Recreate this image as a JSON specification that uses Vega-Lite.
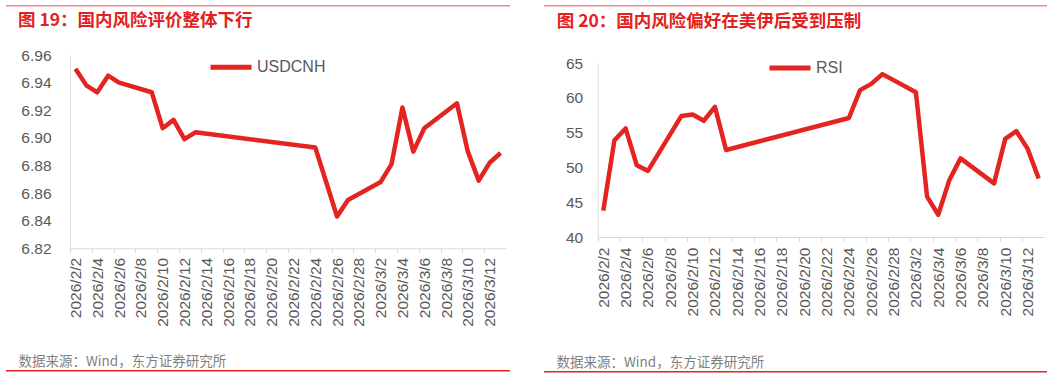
{
  "$schema": "https://vega.github.io/schema/vega-lite/v6.json",
  "padding": {"left": 6, "top": 5, "right": 0, "bottom": 0},
  "background": "white",
  "config": {"view": {"stroke": null}},
  "datasets": {
    "usdcnh": [
      {"date": "2026-02-02", "value": 6.950, "series": "USDCNH"},
      {"date": "2026-02-03", "value": 6.938, "series": "USDCNH"},
      {"date": "2026-02-04", "value": 6.933, "series": "USDCNH"},
      {"date": "2026-02-05", "value": 6.945, "series": "USDCNH"},
      {"date": "2026-02-06", "value": 6.940, "series": "USDCNH"},
      {"date": "2026-02-09", "value": 6.933, "series": "USDCNH"},
      {"date": "2026-02-10", "value": 6.907, "series": "USDCNH"},
      {"date": "2026-02-11", "value": 6.913, "series": "USDCNH"},
      {"date": "2026-02-12", "value": 6.899, "series": "USDCNH"},
      {"date": "2026-02-13", "value": 6.904, "series": "USDCNH"},
      {"date": "2026-02-24", "value": 6.893, "series": "USDCNH"},
      {"date": "2026-02-26", "value": 6.843, "series": "USDCNH"},
      {"date": "2026-02-27", "value": 6.855, "series": "USDCNH"},
      {"date": "2026-03-02", "value": 6.868, "series": "USDCNH"},
      {"date": "2026-03-03", "value": 6.881, "series": "USDCNH"},
      {"date": "2026-03-04", "value": 6.922, "series": "USDCNH"},
      {"date": "2026-03-05", "value": 6.890, "series": "USDCNH"},
      {"date": "2026-03-06", "value": 6.907, "series": "USDCNH"},
      {"date": "2026-03-09", "value": 6.925, "series": "USDCNH"},
      {"date": "2026-03-10", "value": 6.890, "series": "USDCNH"},
      {"date": "2026-03-11", "value": 6.869, "series": "USDCNH"},
      {"date": "2026-03-12", "value": 6.882, "series": "USDCNH"},
      {"date": "2026-03-13", "value": 6.889, "series": "USDCNH"}
    ],
    "rsi": [
      {"date": "2026-02-02", "value": 43.8, "series": "RSI"},
      {"date": "2026-02-03", "value": 53.9, "series": "RSI"},
      {"date": "2026-02-04", "value": 55.6, "series": "RSI"},
      {"date": "2026-02-05", "value": 50.3, "series": "RSI"},
      {"date": "2026-02-06", "value": 49.5, "series": "RSI"},
      {"date": "2026-02-09", "value": 57.4, "series": "RSI"},
      {"date": "2026-02-10", "value": 57.6, "series": "RSI"},
      {"date": "2026-02-11", "value": 56.7, "series": "RSI"},
      {"date": "2026-02-12", "value": 58.7, "series": "RSI"},
      {"date": "2026-02-13", "value": 52.5, "series": "RSI"},
      {"date": "2026-02-24", "value": 57.1, "series": "RSI"},
      {"date": "2026-02-25", "value": 61.1, "series": "RSI"},
      {"date": "2026-02-26", "value": 62.0, "series": "RSI"},
      {"date": "2026-02-27", "value": 63.4, "series": "RSI"},
      {"date": "2026-03-02", "value": 60.8, "series": "RSI"},
      {"date": "2026-03-03", "value": 45.8, "series": "RSI"},
      {"date": "2026-03-04", "value": 43.2, "series": "RSI"},
      {"date": "2026-03-05", "value": 48.2, "series": "RSI"},
      {"date": "2026-03-06", "value": 51.3, "series": "RSI"},
      {"date": "2026-03-09", "value": 47.7, "series": "RSI"},
      {"date": "2026-03-10", "value": 54.1, "series": "RSI"},
      {"date": "2026-03-11", "value": 55.2, "series": "RSI"},
      {"date": "2026-03-12", "value": 52.7, "series": "RSI"},
      {"date": "2026-03-13", "value": 48.4, "series": "RSI"}
    ]
  },
  "resolve": {"scale": {"color": "independent", "x": "independent", "y": "independent"}, "legend": {"color": "independent"}},
  "spacing": 34,
  "hconcat": [
    {
      "spacing": 5,
      "resolve": {"scale": {"color": "independent"}, "legend": {"color": "independent"}},
      "vconcat": [
        {
          "width": 504, "height": 1.5,
          "view": {"fill": "#f08a8a", "stroke": null},
          "data": {"values": [{"k": 1}]},
          "mark": {"type": "text", "text": "", "fontSize": 0},
          "encoding": {}
        },
        {
          "spacing": 2,
          "resolve": {"scale": {"color": "independent"}, "legend": {"color": "independent"}},
          "vconcat": [
            {
              "width": 500, "height": 193.3,
              "data": {"name": "usdcnh"},
              "title": {"text": "图 19：国内风险评价整体下行", "anchor": "start", "frame": "group", "orient": "top", "dx": 12, "offset": 5.7, "baseline": "middle", "font": "Noto Sans CJK SC", "fontSize": 17.5, "fontWeight": "bold", "color": "#e3211d"},
              "mark": {"type": "line", "strokeWidth": 4.5, "strokeJoin": "round"},
              "encoding": {
                "x": {
                  "field": "date", "type": "temporal",
                  "scale": {"type": "utc", "range": [64, 500], "domain": [{"year": 2026, "month": 2, "date": 1, "hours": 12, "utc": true}, {"year": 2026, "month": 3, "date": 13, "hours": 12, "utc": true}]},
                  "axis": {
                    "values": [
                      {"year": 2026, "month": 2, "date": 2, "utc": true},
                      {"year": 2026, "month": 2, "date": 4, "utc": true},
                      {"year": 2026, "month": 2, "date": 6, "utc": true},
                      {"year": 2026, "month": 2, "date": 8, "utc": true},
                      {"year": 2026, "month": 2, "date": 10, "utc": true},
                      {"year": 2026, "month": 2, "date": 12, "utc": true},
                      {"year": 2026, "month": 2, "date": 14, "utc": true},
                      {"year": 2026, "month": 2, "date": 16, "utc": true},
                      {"year": 2026, "month": 2, "date": 18, "utc": true},
                      {"year": 2026, "month": 2, "date": 20, "utc": true},
                      {"year": 2026, "month": 2, "date": 22, "utc": true},
                      {"year": 2026, "month": 2, "date": 24, "utc": true},
                      {"year": 2026, "month": 2, "date": 26, "utc": true},
                      {"year": 2026, "month": 2, "date": 28, "utc": true},
                      {"year": 2026, "month": 3, "date": 2, "utc": true},
                      {"year": 2026, "month": 3, "date": 4, "utc": true},
                      {"year": 2026, "month": 3, "date": 6, "utc": true},
                      {"year": 2026, "month": 3, "date": 8, "utc": true},
                      {"year": 2026, "month": 3, "date": 10, "utc": true},
                      {"year": 2026, "month": 3, "date": 12, "utc": true},
                      {"year": 2026, "month": 3, "date": 14, "utc": true}
                    ],
                    "labelExpr": "(utcmonth(datum.value) == 2 && utcdate(datum.value) == 14) ? '' : utcFormat(datum.value, '%Y/%-m/%-d')",
                    "tickOffset": -5.45, "labelOffset": 5.45,
                    "labelAngle": 270, "labelOverlap": false, "labelFlush": false, "labelBound": false,
                    "labelFont": "Liberation Sans", "labelFontSize": 15.5, "labelColor": "#595959", "labelPadding": 5,
                    "tickSize": 4, "tickColor": "#d9d9d9", "domainColor": "#d9d9d9", "grid": false,
                    "title": "数据来源：Wind，东方证券研究所", "titleX": 12, "titleY": 113, "titleAlign": "left", "titleAnchor": "start", "titleBaseline": "middle",
                    "titleFont": "Noto Sans CJK SC", "titleFontSize": 13.5, "titleFontWeight": "normal", "titleColor": "#808080"
                  }
                },
                "y": {
                  "field": "value", "type": "quantitative",
                  "scale": {"domain": [6.82, 6.96], "zero": false, "nice": false},
                  "axis": {"values": [6.82, 6.84, 6.86, 6.88, 6.9, 6.92, 6.94, 6.96], "format": ".2f", "title": null, "grid": false, "ticks": false, "offset": -64, "domainColor": "#d9d9d9", "labelColor": "#595959", "labelFont": "Liberation Sans", "labelFontSize": 15.5, "labelPadding": 19}
                },
                "color": {
                  "field": "series", "type": "nominal",
                  "scale": {"range": ["#e42420"]},
                  "legend": {"orient": "none", "legendX": 202, "legendY": -10.7, "title": null, "padding": 0, "symbolType": "stroke", "symbolSize": 1681, "symbolStrokeWidth": 5, "labelFont": "Liberation Sans", "labelFontSize": 16, "labelColor": "#595959", "labelOffset": 3}
                }
              }
            },
            {
              "width": 504, "height": 1.5,
              "view": {"fill": "#e8231c", "stroke": null},
              "data": {"values": [{"k": 1}]},
              "mark": {"type": "text", "text": "", "fontSize": 0},
              "encoding": {}
            }
          ]
        }
      ]
    },
    {
      "spacing": 5,
      "resolve": {"scale": {"color": "independent"}, "legend": {"color": "independent"}},
      "vconcat": [
        {
          "width": 503, "height": 1.5,
          "view": {"fill": "#f08a8a", "stroke": null},
          "data": {"values": [{"k": 1}]},
          "mark": {"type": "text", "text": "", "fontSize": 0},
          "encoding": {}
        },
        {
          "spacing": 2,
          "resolve": {"scale": {"color": "independent"}, "legend": {"color": "independent"}},
          "vconcat": [
            {
              "width": 500.3, "height": 174,
              "data": {"name": "rsi"},
              "title": {"text": "图 20：国内风险偏好在美伊后受到压制", "anchor": "start", "frame": "group", "orient": "top", "dx": 12.7, "offset": 6, "baseline": "middle", "font": "Noto Sans CJK SC", "fontSize": 17.5, "fontWeight": "bold", "color": "#e3211d"},
              "mark": {"type": "line", "strokeWidth": 4.5, "strokeJoin": "round"},
              "encoding": {
                "x": {
                  "field": "date", "type": "temporal",
                  "scale": {"type": "utc", "range": [53.7, 500.3], "domain": [{"year": 2026, "month": 2, "date": 1, "hours": 12, "utc": true}, {"year": 2026, "month": 3, "date": 13, "hours": 12, "utc": true}]},
                  "axis": {
                    "values": [
                      {"year": 2026, "month": 2, "date": 2, "utc": true},
                      {"year": 2026, "month": 2, "date": 4, "utc": true},
                      {"year": 2026, "month": 2, "date": 6, "utc": true},
                      {"year": 2026, "month": 2, "date": 8, "utc": true},
                      {"year": 2026, "month": 2, "date": 10, "utc": true},
                      {"year": 2026, "month": 2, "date": 12, "utc": true},
                      {"year": 2026, "month": 2, "date": 14, "utc": true},
                      {"year": 2026, "month": 2, "date": 16, "utc": true},
                      {"year": 2026, "month": 2, "date": 18, "utc": true},
                      {"year": 2026, "month": 2, "date": 20, "utc": true},
                      {"year": 2026, "month": 2, "date": 22, "utc": true},
                      {"year": 2026, "month": 2, "date": 24, "utc": true},
                      {"year": 2026, "month": 2, "date": 26, "utc": true},
                      {"year": 2026, "month": 2, "date": 28, "utc": true},
                      {"year": 2026, "month": 3, "date": 2, "utc": true},
                      {"year": 2026, "month": 3, "date": 4, "utc": true},
                      {"year": 2026, "month": 3, "date": 6, "utc": true},
                      {"year": 2026, "month": 3, "date": 8, "utc": true},
                      {"year": 2026, "month": 3, "date": 10, "utc": true},
                      {"year": 2026, "month": 3, "date": 12, "utc": true},
                      {"year": 2026, "month": 3, "date": 14, "utc": true}
                    ],
                    "labelExpr": "(utcmonth(datum.value) == 2 && utcdate(datum.value) == 14) ? '' : utcFormat(datum.value, '%Y/%-m/%-d')",
                    "tickOffset": -5.58, "labelOffset": 5.58,
                    "labelAngle": 270, "labelOverlap": false, "labelFlush": false, "labelBound": false,
                    "labelFont": "Liberation Sans", "labelFontSize": 15.5, "labelColor": "#595959", "labelPadding": 6,
                    "tickSize": 4, "tickColor": "#d9d9d9", "domainColor": "#d9d9d9", "grid": false,
                    "title": "数据来源：Wind，东方证券研究所", "titleX": 12, "titleY": 125.3, "titleAlign": "left", "titleAnchor": "start", "titleBaseline": "middle",
                    "titleFont": "Noto Sans CJK SC", "titleFontSize": 13.5, "titleFontWeight": "normal", "titleColor": "#808080"
                  }
                },
                "y": {
                  "field": "value", "type": "quantitative",
                  "scale": {"domain": [40, 65], "zero": false, "nice": false},
                  "axis": {"values": [40, 45, 50, 55, 60, 65], "title": null, "grid": false, "ticks": false, "offset": -53.7, "domainColor": "#d9d9d9", "labelColor": "#595959", "labelFont": "Liberation Sans", "labelFontSize": 15.5, "labelPadding": 15}
                },
                "color": {
                  "field": "series", "type": "nominal",
                  "scale": {"range": ["#e42420"]},
                  "legend": {"orient": "none", "legendX": 223, "legendY": -18, "title": null, "padding": 0, "symbolType": "stroke", "symbolSize": 1681, "symbolStrokeWidth": 5, "labelFont": "Liberation Sans", "labelFontSize": 16, "labelColor": "#595959", "labelOffset": 3}
                }
              }
            },
            {
              "width": 503, "height": 1.5,
              "view": {"fill": "#e8231c", "stroke": null},
              "data": {"values": [{"k": 1}]},
              "mark": {"type": "text", "text": "", "fontSize": 0},
              "encoding": {}
            }
          ]
        }
      ]
    }
  ]
}
